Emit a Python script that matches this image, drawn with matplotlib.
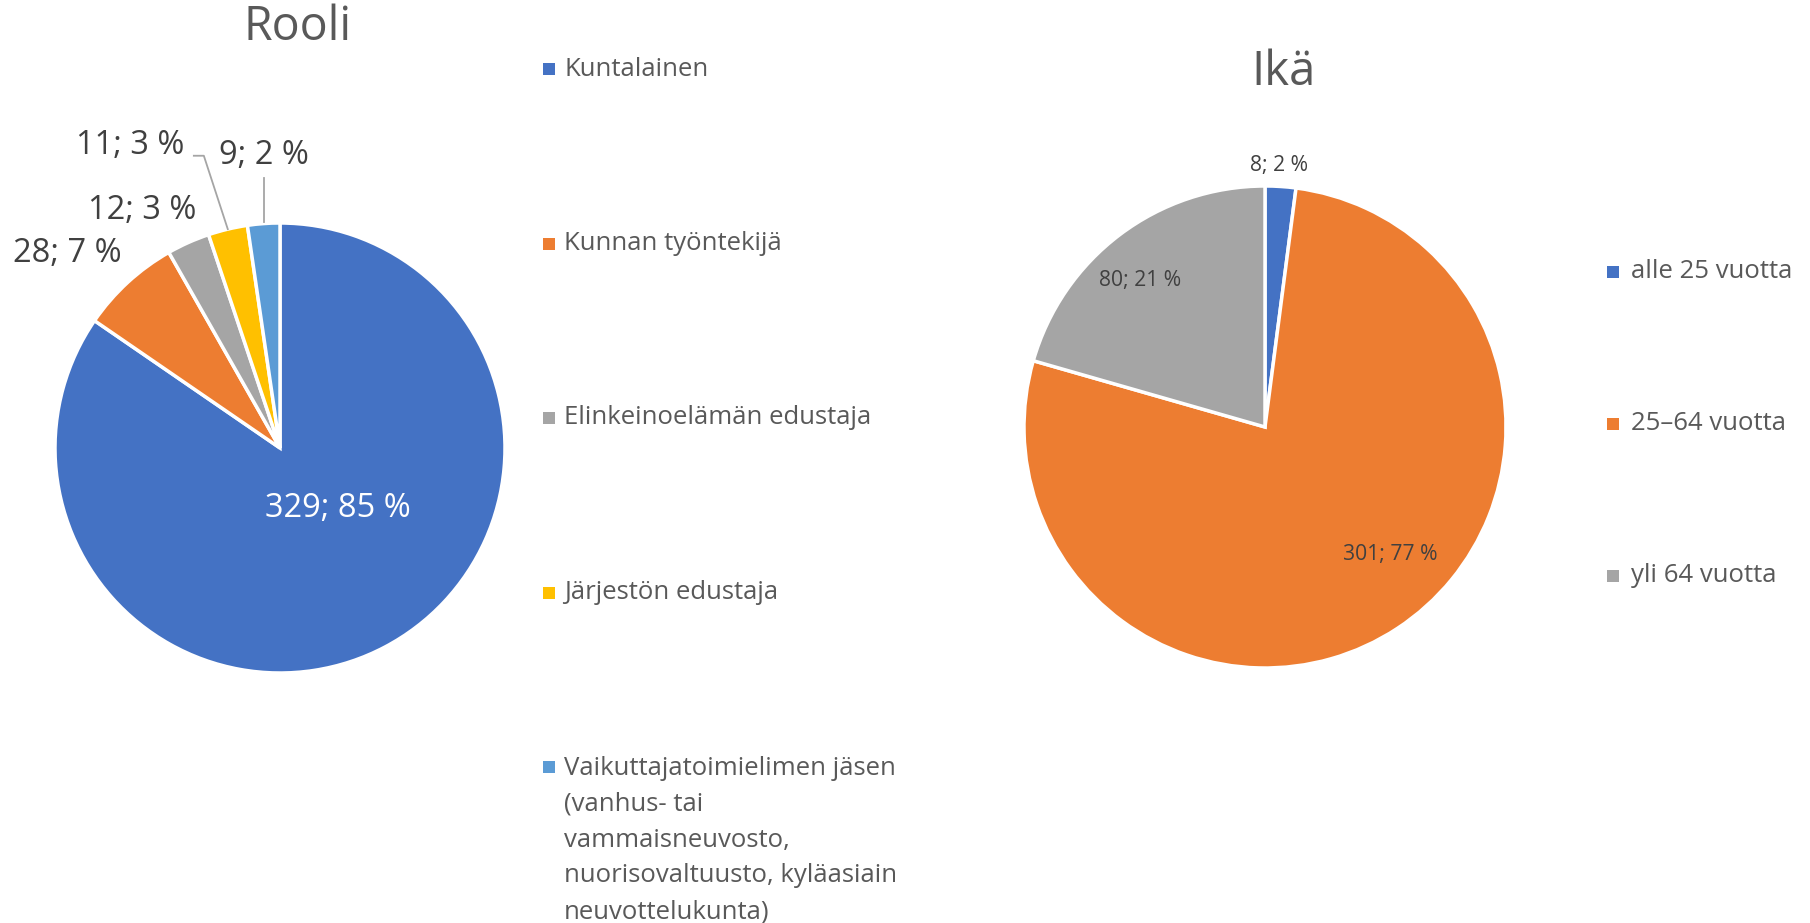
import matplotlib.pyplot as plt
import numpy as np

plt.rcParams['font.family'] = ['Open Sans', 'DejaVu Sans']

# Rooli
rooli_labels = ['Kuntalainen', 'Kunnan työntekijä', 'Elinkeinoelämän edustaja',
                'Järjestön edustaja',
                'Vaikuttajatoimielimen jäsen\n(vanhus- tai\nvammaisneuvosto,\nnuorisovaltuusto, kyläasiain\nneuvottelukunta)']
rooli_n = [329, 28, 12, 11, 9]
rooli_pct = [85, 7, 3, 3, 2]

# Ikä
ika_labels = ['alle 25 vuotta', '25–64 vuotta', 'yli 64 vuotta']
ika_n = [8, 301, 80]
ika_pct = [2, 77, 21]

colors = ['#4472C4', '#ED7D31', '#A5A5A5', '#FFC000', '#5B9BD5']
txt = '#595959'
lbl = '#404040'

W, H = 1810, 923
fig = plt.figure(figsize=(W / 100, H / 100), dpi=100)
ax = fig.add_axes([0, 0, 1, 1])

def Y(y):
    return H - y

# vasen piirakka
c1 = (280, Y(448))
r1 = 225
w1, _ = ax.pie(rooli_n, colors=colors, startangle=90, counterclock=False,
               center=c1, radius=r1, wedgeprops=dict(edgecolor='white', linewidth=2.5))

# label placement: (radius factor, angle offset in degrees)
place1 = [(0.37, 16), (1.28, 5), (1.22, 6), (1.5, 13), (1.30, -1)]
for i, w in enumerate(w1):
    mid = np.deg2rad((w.theta1 + w.theta2) / 2)
    f, off = place1[i]
    a = mid + np.deg2rad(off)
    x = c1[0] + f * r1 * np.cos(a)
    y = c1[1] + f * r1 * np.sin(a)
    col = 'white' if i == 0 else lbl
    ax.text(x, y, f'{rooli_n[i]}; {rooli_pct[i]} %', fontsize=23.5, color=col,
            ha='center', va='center')
    # leader lines for the two smallest
    if i in (3, 4):
        ex = c1[0] + r1 * np.cos(mid)
        ey = c1[1] + r1 * np.sin(mid)
        if i == 3:
            ax.plot([x + 64, x + 74, ex], [y - 10, y - 10, ey], color='#A5A5A5', lw=1.3)
        else:
            ax.plot([ex, ex], [y - 22, ey + 2], color='#A5A5A5', lw=1.3)

ax.text(298, Y(27), 'Rooli', fontsize=33.5, color=txt, ha='center', va='center')

# vasen selite
for i, lab in enumerate(rooli_labels):
    yy = Y(69 + i * 174.5)
    ax.scatter([549], [yy], marker='s', s=80, color=colors[i], linewidths=0)
    if '\n' in lab:
        ax.text(564, yy + 11, lab, fontsize=18.5, color=txt, ha='left', va='top',
                linespacing=1.57)
    else:
        ax.text(564, yy, lab, fontsize=18.5, color=txt, ha='left', va='center')

# oikea piirakka
c2 = (1265, Y(427))
r2 = 241
w2, _ = ax.pie(ika_n, colors=colors[:3], startangle=90, counterclock=False,
               center=c2, radius=r2, wedgeprops=dict(edgecolor='white', linewidth=2.5))

place2 = [(1.087, 0.6), (0.74, 11.2), (0.80, 3.4)]
for i, w in enumerate(w2):
    mid = np.deg2rad((w.theta1 + w.theta2) / 2)
    f, off = place2[i]
    a = mid + np.deg2rad(off)
    x = c2[0] + f * r2 * np.cos(a)
    y = c2[1] + f * r2 * np.sin(a)
    ax.text(x, y, f'{ika_n[i]}; {ika_pct[i]} %', fontsize=15.2, color=lbl,
            ha='center', va='center')

ax.text(1284, Y(72), 'Ikä', fontsize=34, color=txt, ha='center', va='center')

for i, lab in enumerate(ika_labels):
    yy = Y(272 + i * 152)
    ax.scatter([1613], [yy], marker='s', s=75, color=colors[i], linewidths=0)
    ax.text(1631, yy, lab, fontsize=18.5, color=txt, ha='left', va='center')

ax.set_xlim(0, W)
ax.set_ylim(0, H)
ax.set_aspect('equal')
ax.axis('off')

fig.savefig('out.png', dpi=100, facecolor='white')
